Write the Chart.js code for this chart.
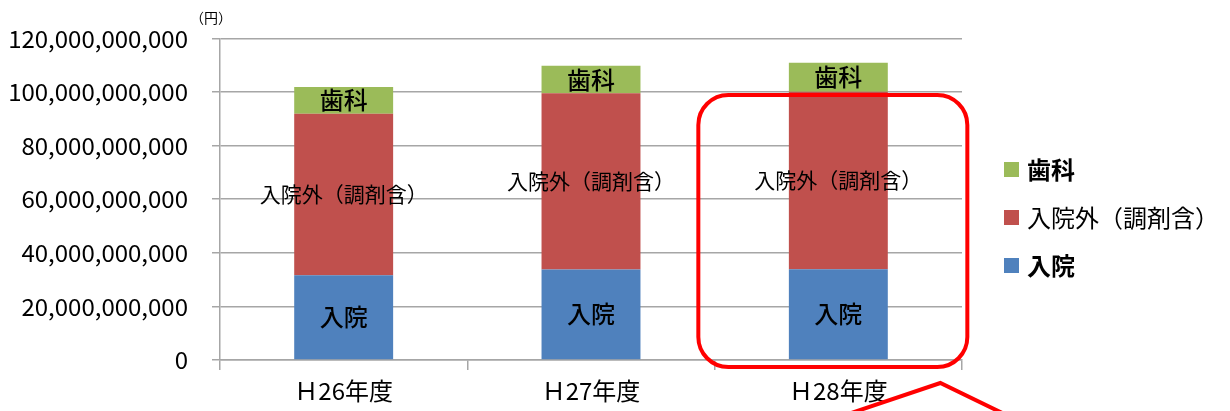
<!DOCTYPE html>
<html>
<head>
<meta charset="utf-8">
<script src="https://cdn.jsdelivr.net/npm/chart.js@4.4.0/dist/chart.umd.min.js"></script>
<style>
  html, body { margin: 0; padding: 0; background: #fff; }
  #wrap { width: 1230px; height: 411px; position: relative; }
</style>
</head>
<body>
<div id="wrap"><canvas id="chart"></canvas></div>
<script>
const categories = ["Ｈ26年度", "Ｈ27年度", "Ｈ28年度"];
const inpatient = [31600000000, 33800000000, 33900000000];
const outpatient = [60300000000, 65700000000, 66200000000];
const dental = [10000000000, 10300000000, 10800000000];
const seriesNames = ["入院", "入院外（調剤含）", "歯科"];
const seriesColors = ["#4f81bd", "#c0504d", "#9bbb59"];
const yTicks = [0, 20000000000, 40000000000, 60000000000, 80000000000, 100000000000, 120000000000];

const FONT = "'Noto Sans CJK JP', 'Noto Sans', sans-serif";
const GRID = "#a6a6a6";

// labels drawn inside each bar segment
const barLabels = {
  id: "barLabels",
  afterDatasetsDraw(chart) {
    const ctx = chart.ctx;
    ctx.save();
    ctx.fillStyle = "#000";
    ctx.textAlign = "center";
    ctx.textBaseline = "middle";
    chart.data.datasets.forEach((ds, i) => {
      const meta = chart.getDatasetMeta(i);
      meta.data.forEach((bar) => {
        const cy = (bar.y + bar.base) / 2;
        ctx.font = (i === 1 ? "21px " : "500 24px ") + FONT;
        ctx.fillText(ds.label, bar.x, cy);
      });
    });
    ctx.restore();
  },
};

// legend on the right, top item first
const sideLegend = {
  id: "sideLegend",
  afterDraw(chart) {
    const ctx = chart.ctx;
    const items = chart.data.datasets.map((d, i) => ({ label: d.label, color: d.backgroundColor, bold: i !== 1 })).reverse();
    ctx.save();
    ctx.textBaseline = "middle";
    ctx.textAlign = "left";
    items.forEach((it, k) => {
      const y = 170 + k * 48;
      ctx.fillStyle = it.color;
      ctx.fillRect(1004, y - 8, 15, 15);
      ctx.fillStyle = "#000";
      ctx.font = (it.bold ? "bold " : "") + "24px " + FONT;
      ctx.fillText(it.label, 1027, y);
    });
    // unit
    ctx.font = "14px " + FONT;
    ctx.fillText("（円）", 190, 18);
    ctx.restore();
  },
};

// red callout box around the last year
const callout = {
  id: "callout",
  afterDraw(chart) {
    const ctx = chart.ctx;
    const x = chart.scales.x;
    const cx = x.getPixelForValue(2);
    const left = cx - 140, right = cx + 129;
    const top = 95, bottom = 367, r = 30;
    ctx.save();
    ctx.strokeStyle = "#ff0000";
    ctx.lineWidth = 4;
    ctx.beginPath();
    ctx.roundRect(left, top, right - left, bottom - top, r);
    ctx.stroke();
    ctx.beginPath();
    ctx.moveTo(cx + 10, 414);
    ctx.lineTo(cx + 102, 383);
    ctx.lineTo(cx + 166, 414);
    ctx.stroke();
    ctx.restore();
  },
};

new Chart(document.getElementById("chart"), {
  type: "bar",
  data: {
    labels: categories,
    datasets: [
      { label: seriesNames[0], data: inpatient, backgroundColor: seriesColors[0] },
      { label: seriesNames[1], data: outpatient, backgroundColor: seriesColors[1] },
      { label: seriesNames[2], data: dental, backgroundColor: seriesColors[2] },
    ],
  },
  options: {
    responsive: true,
    maintainAspectRatio: false,
    animation: false,
    layout: { padding: { top: 37, right: 268, left: 0, bottom: 0 } },
    datasets: { bar: { categoryPercentage: 1, barPercentage: 0.4 } },
    plugins: { legend: { display: false }, tooltip: { enabled: false } },
    scales: {
      x: {
        stacked: true,
        afterFit: (s) => { s.height = 51; },
        grid: { offset: true, drawOnChartArea: false, color: GRID, lineWidth: 1.5, tickLength: 10 },
        border: { color: GRID, width: 1.5 },
        ticks: { color: "#000", font: { family: FONT, size: 24 }, padding: 6 },
      },
      y: {
        stacked: true,
        min: 0,
        max: 120000000000,
        afterFit: (s) => { s.width = 220; },
        afterBuildTicks: (s) => { s.ticks = yTicks.map((v) => ({ value: v })); },
        grid: { color: GRID, lineWidth: 1.5, tickLength: 8 },
        border: { color: GRID, width: 1.5 },
        ticks: {
          color: "#000",
          font: { family: FONT, size: 24 },
          padding: 24,
          callback: (v) => Number(v).toLocaleString("en-US"),
        },
      },
    },
  },
  plugins: [barLabels, sideLegend, callout],
});
</script>
</body>
</html>
